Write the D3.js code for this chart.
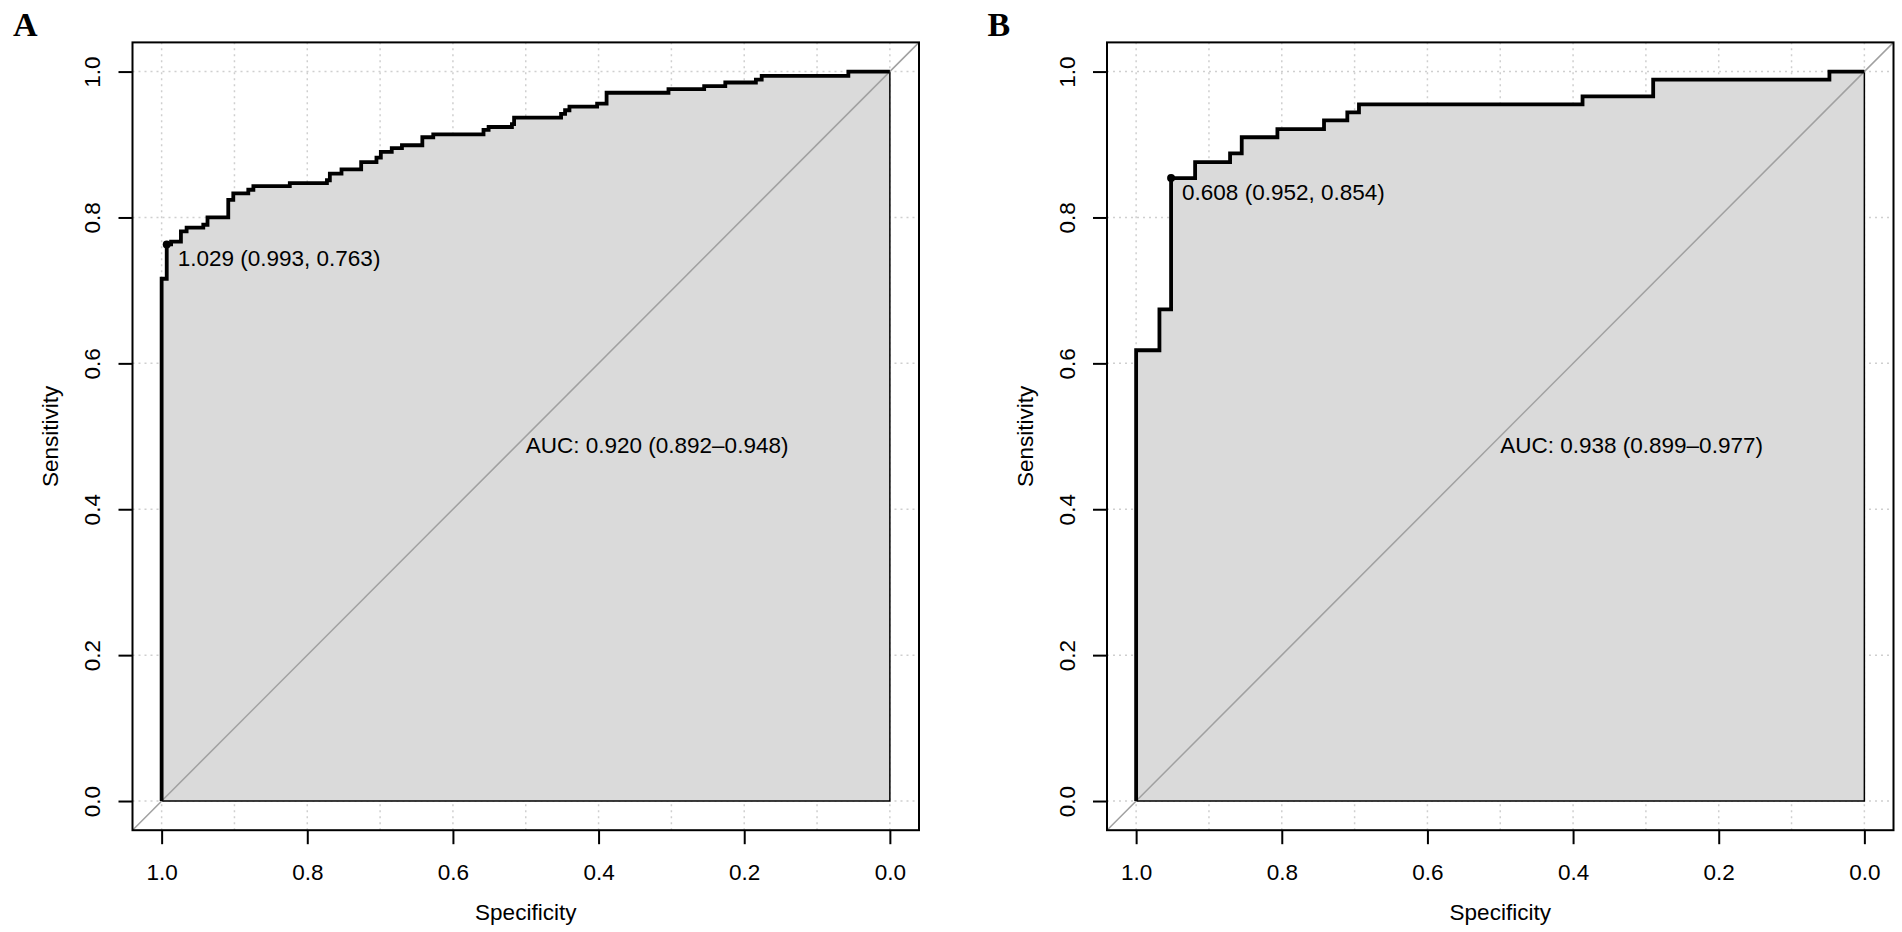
<!DOCTYPE html>
<html>
<head>
<meta charset="utf-8">
<script src="https://cdn.jsdelivr.net/npm/d3@7"></script>
<style>
  html, body { margin: 0; padding: 0; background: #ffffff; }
  svg { display: block; }
  text { fill: #000; }
</style>
</head>
<body>
<svg id="chart" width="1902" height="932"></svg>
<script>
// ---------- data ----------
const panelLabels = ["A", "B"];
const specTicks = [1.0, 0.8, 0.6, 0.4, 0.2, 0.0];
const sensTicks = [0.0, 0.2, 0.4, 0.6, 0.8, 1.0];
const specGrid = [1.0, 0.9, 0.8, 0.7, 0.6, 0.5, 0.4, 0.3, 0.2, 0.1, 0.0];
const sensGrid = [0.0, 0.2, 0.4, 0.6, 0.8, 1.0];

// Panel A ROC curve vertices (specificity, sensitivity)
const specA = [1, 1, 0.993, 0.993, 0.987, 0.987, 0.9735, 0.9735, 0.9657, 0.9657, 0.9428, 0.9428,
  0.937, 0.937, 0.9085, 0.9085, 0.9016, 0.9016, 0.881, 0.881, 0.874, 0.874, 0.824, 0.824,
  0.773, 0.773, 0.769, 0.769, 0.753, 0.753, 0.726, 0.726, 0.705, 0.705, 0.699, 0.699,
  0.684, 0.684, 0.670, 0.670, 0.642, 0.642, 0.627, 0.627, 0.558, 0.558, 0.551, 0.551,
  0.519, 0.519, 0.516, 0.516, 0.4515, 0.4515, 0.446, 0.446, 0.440, 0.440, 0.402, 0.402,
  0.389, 0.389, 0.304, 0.304, 0.255, 0.255, 0.226, 0.226, 0.184, 0.184, 0.176, 0.176,
  0.057, 0.057, 0];
const sensA = [0, 0.716, 0.716, 0.763, 0.763, 0.767, 0.767, 0.781, 0.781, 0.786, 0.786, 0.790,
  0.790, 0.800, 0.800, 0.824, 0.824, 0.833, 0.833, 0.838, 0.838, 0.843, 0.843, 0.847,
  0.847, 0.851, 0.851, 0.860, 0.860, 0.866, 0.866, 0.876, 0.876, 0.882, 0.882, 0.890,
  0.890, 0.895, 0.895, 0.899, 0.899, 0.910, 0.910, 0.914, 0.914, 0.920, 0.920, 0.924,
  0.924, 0.928, 0.928, 0.937, 0.937, 0.942, 0.942, 0.947, 0.947, 0.952, 0.952, 0.956,
  0.956, 0.971, 0.971, 0.976, 0.976, 0.980, 0.980, 0.985, 0.985, 0.989, 0.989, 0.994,
  0.994, 1, 1];

// Panel B ROC curve vertices
const specB = [1, 1, 0.968, 0.968, 0.952, 0.952, 0.919, 0.919, 0.871, 0.871, 0.855, 0.855,
  0.806, 0.806, 0.742, 0.742, 0.710, 0.710, 0.694, 0.694, 0.387, 0.387, 0.290, 0.290,
  0.048, 0.048, 0];
const sensB = [0, 0.618, 0.618, 0.674, 0.674, 0.854, 0.854, 0.876, 0.876, 0.888, 0.888, 0.910,
  0.910, 0.921, 0.921, 0.933, 0.933, 0.944, 0.944, 0.955, 0.955, 0.966, 0.966, 0.989,
  0.989, 1, 1];

const threshLabels = ["1.029 (0.993, 0.763)", "0.608 (0.952, 0.854)"];
const threshSpec = [0.993, 0.952];
const threshSens = [0.763, 0.854];
const aucLabels = ["AUC: 0.920 (0.892\u20130.948)", "AUC: 0.938 (0.899\u20130.977)"];
const aucSpec = [0.5, 0.5];
const aucSens = [0.5, 0.5];

const curvesSpec = [specA, specB];
const curvesSens = [sensA, sensB];

// ---------- layout ----------
const SANS = "'Liberation Sans', Arial, sans-serif";
const SERIF = "'Liberation Serif', 'Times New Roman', serif";
const svg = d3.select("#chart");
svg.append("rect").attr("width", 1902).attr("height", 932).attr("fill", "#ffffff");

const panelLeft = [132.5, 1107];
const panelWidth = 786.5;
const plotTop = 42.4, plotBottom = 830.2;
const FS = 22.5;

panelLabels.forEach((lab, i) => {
  const x = d3.scaleLinear().domain([1.04, -0.04]).range([panelLeft[i], panelLeft[i] + panelWidth]);
  const y = d3.scaleLinear().domain([-0.04, 1.04]).range([plotBottom, plotTop]);
  const g = svg.append("g");

  // grid
  g.selectAll(null).data(specGrid).enter().append("line")
    .attr("x1", d => x(d)).attr("x2", d => x(d))
    .attr("y1", y(-0.04)).attr("y2", y(1.04))
    .attr("stroke", "#cfcfcf").attr("stroke-width", 1.5).attr("stroke-dasharray", "2,4");
  g.selectAll(null).data(sensGrid).enter().append("line")
    .attr("y1", d => y(d)).attr("y2", d => y(d))
    .attr("x1", x(1.04)).attr("x2", x(-0.04))
    .attr("stroke", "#cfcfcf").attr("stroke-width", 1.5).attr("stroke-dasharray", "2,4");

  const pts = curvesSpec[i].map((s, k) => [s, curvesSens[i][k]]);
  const line = d3.line().x(d => x(d[0])).y(d => y(d[1]));

  // AUC polygon
  const poly = pts.concat([[0, 0]]);
  g.append("path").attr("d", line(poly) + "Z")
    .attr("fill", "#dadada").attr("stroke", "#000").attr("stroke-width", 1.5);

  // identity line
  g.append("line")
    .attr("x1", x(1.04)).attr("y1", y(-0.04))
    .attr("x2", x(-0.04)).attr("y2", y(1.04))
    .attr("stroke", "#a0a0a0").attr("stroke-width", 1.5);

  // ROC curve
  g.append("path").attr("d", line(pts))
    .attr("fill", "none").attr("stroke", "#000").attr("stroke-width", 3.8)
    .attr("stroke-linejoin", "miter");

  // box
  g.append("rect")
    .attr("x", x(1.04)).attr("y", y(1.04))
    .attr("width", x(-0.04) - x(1.04)).attr("height", y(-0.04) - y(1.04))
    .attr("fill", "none").attr("stroke", "#000").attr("stroke-width", 2);

  // x axis
  const xAxis = d3.axisBottom(x).tickValues(specTicks).tickFormat(d3.format(".1f"))
    .tickSize(14).tickPadding(8);
  const gx = g.append("g").attr("transform", `translate(0,${plotBottom})`).call(xAxis);
  gx.select(".domain").remove();
  gx.selectAll(".tick line").attr("stroke", "#000").attr("stroke-width", 2);
  gx.selectAll(".tick text").style("font-size", FS + "px").style("font-family", SANS)
    .attr("y", null).attr("dy", null).attr("transform", "translate(0,50)");

  // y axis
  const yAxis = d3.axisLeft(y).tickValues(sensTicks).tickFormat(d3.format(".1f"))
    .tickSize(14).tickPadding(8);
  const gy = g.append("g").attr("transform", `translate(${panelLeft[i]},0)`).call(yAxis);
  gy.select(".domain").remove();
  gy.selectAll(".tick line").attr("stroke", "#000").attr("stroke-width", 2);
  gy.selectAll(".tick text").style("font-size", FS + "px").style("font-family", SANS)
    .attr("x", null).attr("dy", null)
    .attr("text-anchor", "middle")
    .attr("transform", "translate(-32.5,0) rotate(-90)");

  // axis titles
  g.append("text").attr("x", (x(1.04) + x(-0.04)) / 2).attr("y", 920)
    .attr("text-anchor", "middle").style("font-size", FS + "px").style("font-family", SANS)
    .text("Specificity");
  g.append("text")
    .attr("transform", `translate(${panelLeft[i] - 74.5},${(plotTop + plotBottom) / 2}) rotate(-90)`)
    .attr("text-anchor", "middle").style("font-size", FS + "px").style("font-family", SANS)
    .text("Sensitivity");

  // threshold point + label
  g.append("circle").attr("cx", x(threshSpec[i])).attr("cy", y(threshSens[i]))
    .attr("r", 4).attr("fill", "#000");
  g.append("text").attr("x", x(threshSpec[i]) + 11).attr("y", y(threshSens[i]) + 21.5)
    .style("font-size", FS + "px").style("font-family", SANS).text(threshLabels[i]);

  // AUC label
  g.append("text").attr("x", x(aucSpec[i])).attr("y", y(aucSens[i]) + 16.3)
    .style("font-size", FS + "px").style("font-family", SANS).text(aucLabels[i]);

  // panel letter
  g.append("text").attr("x", panelLeft[i] - 119.5).attr("y", 35.5)
    .style("font-family", SERIF).style("font-weight", "bold").style("font-size", "34px")
    .text(lab);
});
</script>
</body>
</html>
